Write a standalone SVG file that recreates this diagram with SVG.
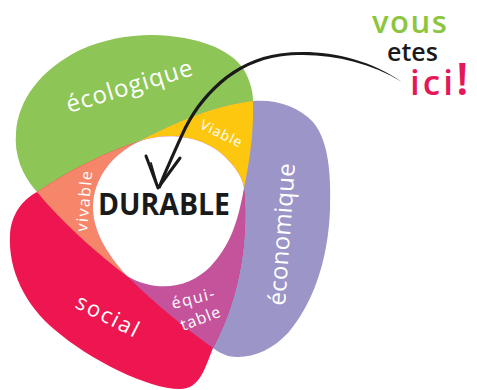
<svg xmlns="http://www.w3.org/2000/svg" xmlns:xlink="http://www.w3.org/1999/xlink" width="477" height="390" viewBox="0 0 477 390">
<style>
.lbl{font-family:"Open Sans","DejaVu Sans",sans-serif;fill:#ffffff;}
.big{font-size:24px;}
.small{font-size:16px;}
.dur{font-family:"Open Sans","DejaVu Sans",sans-serif;font-weight:bold;font-size:30px;fill:#1a1a1a;}
.hand{font-family:"Open Sans","DejaVu Sans",sans-serif;font-weight:600;}
.ink{fill:none;stroke:#1a1a1a;stroke-linecap:round;stroke-linejoin:round;}
</style>
<defs>
<path id="pG" d="M 37,192 C 22,175 14,155 16,133 C 18,100 40,70 80,50 C 110,37 140,33 170,36 C 210,40 240,55 248,78 C 252,88 253,95 253,101 C 254,130 250,160 244,188 C 238,222 230,246 210,267 C 190,287 158,294 127,276 C 95,252 60,220 37,192 Z"/>
<path id="pP" d="M 253,101 C 275,99 298,106 313,122 C 330,142 331,180 330,210 C 328,262 312,305 288,333 C 270,352 248,360 228,356 C 222,354 217,351 213,348 C 185,328 155,304 127,276 C 105,252 92,228 93,205 C 94,180 110,155 140,141 C 172,124 212,106 253,101 Z"/>
<path id="pR" d="M 37,192 C 70,170 105,152 140,141 C 170,131 208,137 228,160 C 238,170 243,180 244,188 C 248,232 243,292 213,348 C 205,368 200,389 180,389 C 148,389 90,360 55,330 C 25,305 8,270 10,235 C 11,215 22,200 37,192 Z"/>
<clipPath id="cG"><use xlink:href="#pG"/></clipPath>
<clipPath id="cP"><use xlink:href="#pP"/></clipPath>
</defs>

<g id="node-ecologique">
<use xlink:href="#pG" fill="#8dc657"/>
<text class="lbl big" letter-spacing="1" transform="translate(69,113) rotate(-17)">écologique</text>
</g>
<g id="node-economique">
<use xlink:href="#pP" fill="#9b95c8"/>
<text class="lbl big" letter-spacing="0.3" transform="translate(285,306) rotate(-86)">économique</text>
</g>
<g id="node-social">
<use xlink:href="#pR" fill="#ee1651"/>
<text class="lbl" font-size="22" letter-spacing="2" transform="translate(74,307) rotate(27)">social</text>
</g>

<g id="node-viable">
<use xlink:href="#pP" fill="#fdc70f" clip-path="url(#cG)"/>
<text class="lbl" font-size="14" letter-spacing="1" transform="translate(199,128) rotate(26)">Viable</text>
</g>
<g id="node-vivable">
<use xlink:href="#pR" fill="#f5866a" clip-path="url(#cG)"/>
<text class="lbl small" letter-spacing="1.5" transform="translate(87,232) rotate(-85)">vivable</text>
</g>
<g id="node-equitable">
<use xlink:href="#pR" fill="#c4539c" clip-path="url(#cP)"/>
<text class="lbl small" letter-spacing="1.5" transform="translate(173,309) rotate(-14)">équi-</text>
<text class="lbl small" letter-spacing="1" transform="translate(183,331) rotate(-21)">table</text>
</g>
<g id="node-durable">
<g clip-path="url(#cG)"><use xlink:href="#pR" fill="#ffffff" clip-path="url(#cP)"/></g>
<text class="dur" x="98" y="215" textLength="132" lengthAdjust="spacingAndGlyphs">DURABLE</text>
</g>

<g id="node-vous-etes-ici">
<text class="hand" x="372" y="33" font-size="31" letter-spacing="1.5" fill="#8cc63f">vous</text>
<text class="hand" x="387" y="61" font-size="25" fill="#1a1a1a">etes</text>
<text class="hand" x="410" y="95" font-size="35" letter-spacing="3" fill="#e4175a">ici<tspan font-size="46" letter-spacing="0">!</tspan></text>
</g>

<g id="connectors">
<path fill="#1a1a1a" d="M 402,82 C 365,56.5 320,48.5 280,53.5 C 234,59.5 198.5,94 180.5,134.5 C 170.5,156.5 162.5,174.5 157.5,187.5 L 160.5,188.5 C 165.5,175.5 173.5,157.5 183.5,135.5 C 201.5,96 236,62.5 280,56.5 C 320,51.5 365,59.5 402,82 Z"/>
<path class="ink" stroke-width="3" d="M 146,156 L 158,188 L 180,158"/>
<path class="ink" stroke-width="1.8" d="M 151,163 L 157,184"/>
</g>
</svg>
